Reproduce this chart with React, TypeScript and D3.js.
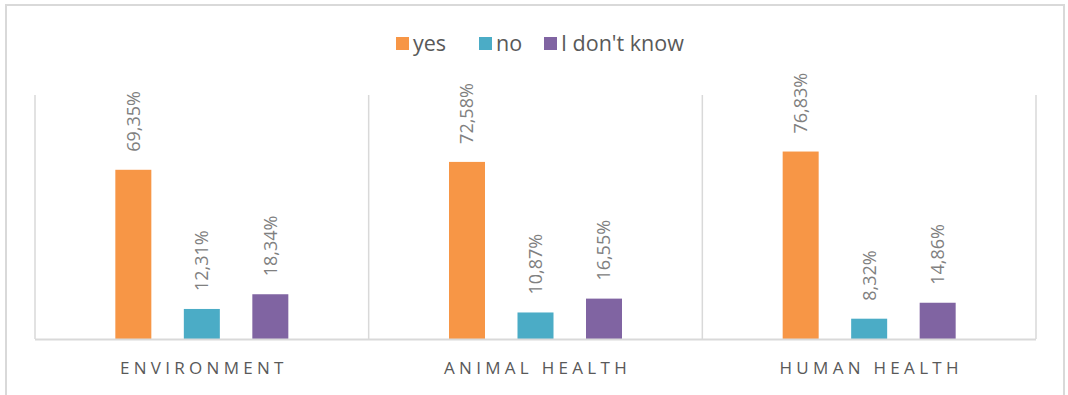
import React from "react";
import * as d3 from "d3";

const categories = ["ENVIRONMENT", "ANIMAL HEALTH", "HUMAN HEALTH"];
const seriesNames = ["yes", "no", "I don't know"];
const yesValues = [69.35, 72.58, 76.83];
const noValues = [12.31, 10.87, 8.32];
const dontKnowValues = [18.34, 16.55, 14.86];
const seriesColors = ["#F79646", "#4BACC6", "#8064A2"];

const W = 1068;
const H = 395;

export default function App() {
  const values = [yesValues, noValues, dontKnowValues];
  const x = d3.scaleBand<string>().domain(categories).range([35, 1036]).padding(0);
  const y = d3.scaleLinear().domain([0, 100]).range([339, 95]);
  const barW = 36;
  const step = 68.5;
  const font = "'Open Sans', sans-serif";

  const legendItems = [
    { x: 396, label: seriesNames[0], color: seriesColors[0] },
    { x: 479, label: seriesNames[1], color: seriesColors[1] },
    { x: 544, label: seriesNames[2], color: seriesColors[2] },
  ];

  return (
    <svg width={W} height={H} style={{ position: "absolute", left: 0, top: 0, background: "#fff" }}>
      <rect x={6} y={5} width={1058} height={400} fill="#fff" stroke="#d9d9d9" strokeWidth={2} />
      {/* legend */}
      {legendItems.map((d, i) => (
        <g key={i}>
          <rect x={d.x} y={37} width={13} height={13} fill={d.color} />
          <text x={d.x + 17} y={50.5} fontFamily={font} fontSize={21.5} fill="#595959">
            {d.label}
          </text>
        </g>
      ))}
      {/* vertical separators */}
      {[...categories.map((c) => x(c)!), 1036].map((xv, i) => (
        <line key={i} x1={xv} x2={xv} y1={95} y2={339} stroke="#d9d9d9" strokeWidth={1.5} />
      ))}
      {/* bars */}
      {categories.map((c, ci) => {
        const cx = x(c)! + x.bandwidth() / 2;
        const inner = d3.scalePoint<string>().domain(seriesNames).range([cx - step, cx + step]);
        return seriesNames.map((s, si) => {
          const v = values[si][ci];
          const bx = inner(s)!;
          const top = y(v);
          const label = v.toFixed(2).replace(".", ",") + "%";
          return (
            <g key={c + s}>
              <rect x={bx - barW / 2} y={top} width={barW} height={y(0) - top} fill={seriesColors[si]} />
              <text
                transform={`translate(${bx},${top - 18}) rotate(-90)`}
                dy="0.36em"
                fontFamily={font}
                fontSize={18}
                fill="#808080"
              >
                {label}
              </text>
            </g>
          );
        });
      })}
      {/* baseline */}
      <line x1={35} x2={1036} y1={339.5} y2={339.5} stroke="#d9d9d9" strokeWidth={2} />
      {/* category labels */}
      {categories.map((c) => (
        <text
          key={c}
          x={x(c)! + x.bandwidth() / 2 + 2}
          y={374}
          textAnchor="middle"
          fontFamily={font}
          fontSize={17}
          letterSpacing={4.3}
          fill="#595959"
        >
          {c}
        </text>
      ))}
    </svg>
  );
}
